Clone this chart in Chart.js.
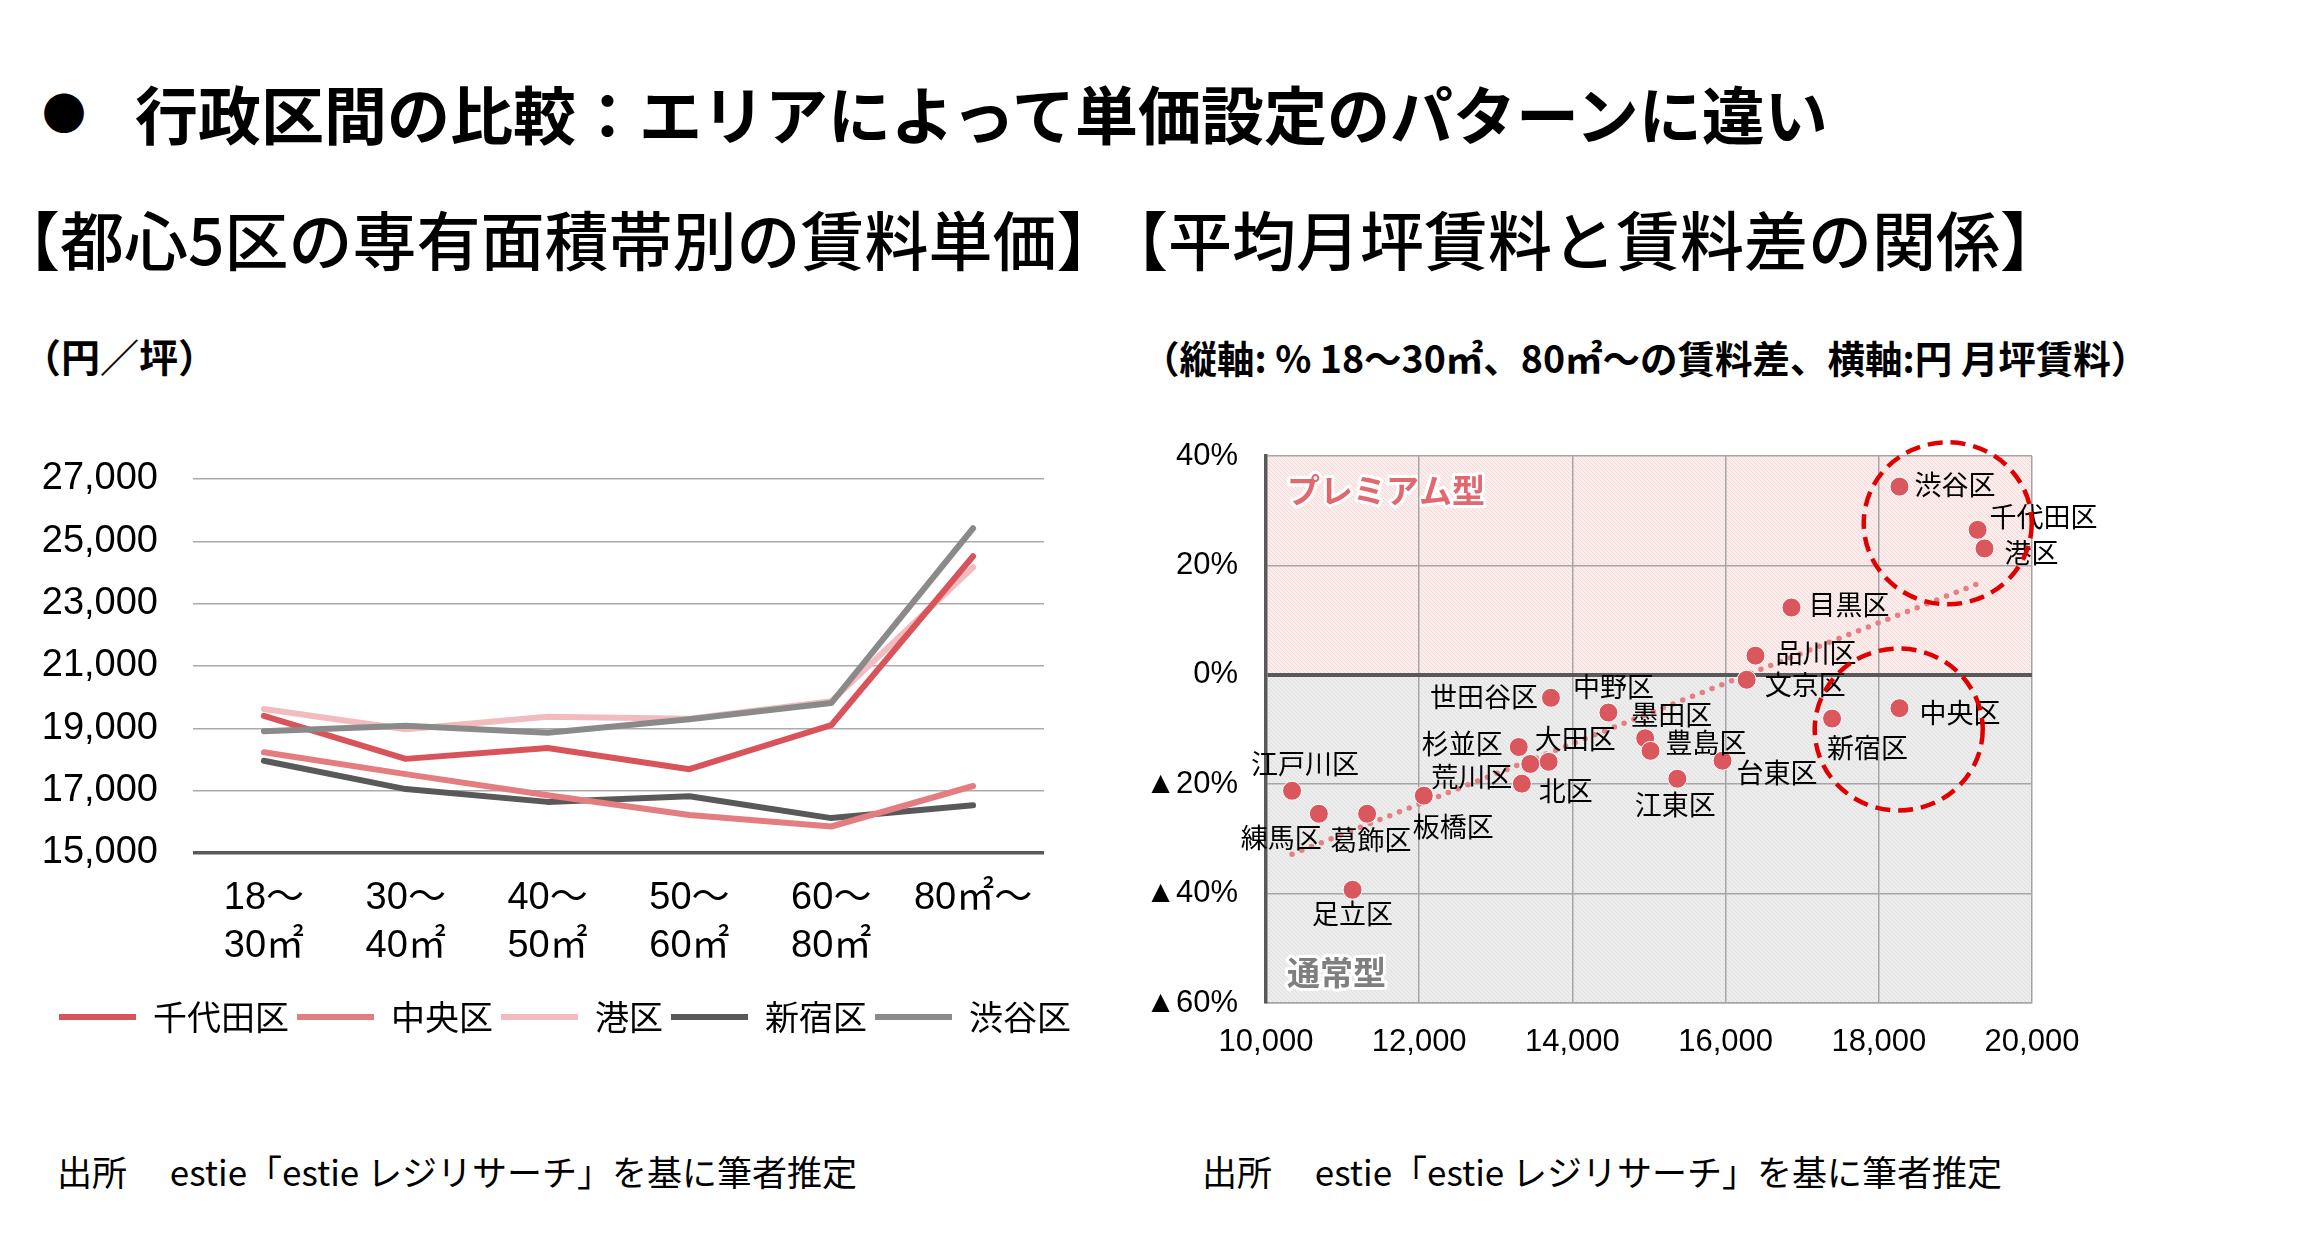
<!DOCTYPE html>
<html lang="ja">
<head>
<meta charset="utf-8">
<script src="https://cdn.jsdelivr.net/npm/chart.js@4.4.1/dist/chart.umd.min.js"></script>
<style>
  html, body { margin: 0; padding: 0; background: #fff; }
  body { width: 2321px; height: 1260px; position: relative; overflow: hidden;
         font-family: "Noto Sans CJK JP", sans-serif; color: #000; }
  .txt { position: absolute; white-space: nowrap; line-height: 1; }
  #bullet { left: 42px; top: 89px; font-size: 44px; }
  #title { left: 135px; top: 80px; font-size: 63px; font-weight: bold; }
  #subLeft { left: -4px; top: 205px; font-size: 64px; font-weight: 500; }
  #subRight { left: 1104px; top: 205px; font-size: 64px; font-weight: 500; }
  #unitLeft { left: 22px; top: 336px; font-size: 39px; font-weight: bold; }
  #unitRight { left: 1142px; top: 338px; font-size: 37.5px; font-weight: bold; }
  #srcLeft { left: 57px; top: 1153px; font-size: 35px; }
  #srcRight { left: 1202px; top: 1153px; font-size: 35px; }
  #rentChart { position: absolute; left: 0; top: 440px; }
  #gapChart { position: absolute; left: 1140px; top: 420px; }
</style>
</head>
<body>
<div class="txt" id="bullet">●</div>
<div class="txt" id="title">行政区間の比較：エリアによって単価設定のパターンに違い</div>
<div class="txt" id="subLeft">【都心5区の専有面積帯別の賃料単価】</div>
<div class="txt" id="subRight">【平均月坪賃料と賃料差の関係】</div>
<div class="txt" id="unitLeft">（円／坪）</div>
<div class="txt" id="unitRight">（縦軸: % 18～30㎡、80㎡～の賃料差、横軸:円 月坪賃料）</div>
<div class="txt" id="srcLeft">出所　 estie「estie レジリサーチ」を基に筆者推定</div>
<div class="txt" id="srcRight">出所　 estie「estie レジリサーチ」を基に筆者推定</div>
<canvas id="rentChart" width="1130" height="640"></canvas>
<canvas id="gapChart" width="1181" height="700"></canvas>
<script>
// --- left chart: rent per tsubo by floor-area band ---
const sizeBands = [["18～", "30㎡"], ["30～", "40㎡"], ["40～", "50㎡"], ["50～", "60㎡"], ["60～", "80㎡"], "80㎡～"];
const wardNames = ["千代田区", "中央区", "港区", "新宿区", "渋谷区"];
const chiyoda = [19400, 18020, 18370, 17690, 19100, 24520];
const chuo = [18230, 17530, 16850, 16220, 15850, 17150];
const minato = [19620, 18970, 19370, 19310, 19870, 24170];
const shinjuku = [17960, 17050, 16640, 16820, 16120, 16530];
const shibuya = [18910, 19080, 18860, 19290, 19810, 25420];
const rentMin = 15000, rentMax = 27000, rentStep = 2000;

// --- right chart: average rent vs. premium of 80㎡~ over 18~30㎡ ---
const wards = ["渋谷区", "千代田区", "港区", "目黒区", "品川区", "文京区", "中央区", "新宿区",
  "世田谷区", "中野区", "墨田区", "豊島区", "杉並区", "大田区", "荒川区", "北区",
  "台東区", "江東区", "江戸川区", "練馬区", "葛飾区", "板橋区", "足立区"];
const avgRent = [18270, 19290, 19380, 16860, 16390, 16275, 18270, 17390,
  13720, 14470, 14950, 15020, 13300, 13690, 13450, 13340,
  15960, 15370, 10340, 10690, 11320, 12060, 11130];
const rentGap = [34.4, 26.5, 23.1, 12.3, 3.5, -0.9, -6.1, -8.0,
  -4.2, -6.9, -11.6, -13.9, -13.2, -15.9, -16.3, -19.9,
  -15.7, -19.0, -21.2, -25.4, -25.4, -22.1, -39.3];
const trendRent = [10340, 19320];
const trendGap = [-32.8, 16.8];
const circleRent = [18900, 18260];
const circleGap = [27.7, -10.0];
const gapMin = -60, gapMax = 40, gapStep = 20;
const avgMin = 10000, avgMax = 20000, avgStep = 2000;

const numFont = '"Liberation Sans", "Noto Sans CJK JP", sans-serif';
const jpFont = '"Noto Sans CJK JP", sans-serif';

// where each ward name sits next to its dot: [align, dx, dy]
const labelPlace = {
  "渋谷区": ["left", 15, -2], "千代田区": ["left", 12, -13], "港区": ["left", 20, 4],
  "目黒区": ["left", 17, -3], "品川区": ["left", 20, -3], "文京区": ["left", 18, 5],
  "中央区": ["left", 20, 5], "新宿区": ["left", -5, 29], "世田谷区": ["right", -13, -1],
  "中野区": ["center", 5, -26], "墨田区": ["left", -14, -24], "豊島区": ["left", 15, -8],
  "杉並区": ["right", -16, -3], "大田区": ["left", -14, -23], "荒川区": ["right", -18, 13],
  "北区": ["left", 17, 7], "台東区": ["left", 14, 12], "江東区": ["center", -2, 26],
  "江戸川区": ["center", 13, -27], "練馬区": ["right", 3, 24], "葛飾区": ["center", 4, 26],
  "板橋区": ["left", -11, 31], "足立区": ["center", 0, 24]
};

Chart.defaults.animation = false;
Chart.defaults.devicePixelRatio = 1;

function lineSet(label, data, color, order) {
  return {
    label, data, order,
    borderColor: color, backgroundColor: color,
    borderWidth: 6, borderCapStyle: "round", borderJoinStyle: "round",
    pointRadius: 0, tension: 0
  };
}

new Chart(document.getElementById("rentChart"), {
  type: "line",
  data: {
    labels: sizeBands,
    datasets: [
      lineSet(wardNames[0], chiyoda, "#D9545A", 1),
      lineSet(wardNames[1], chuo, "#E47D80", 2),
      lineSet(wardNames[2], minato, "#F2BCBE", 4),
      lineSet(wardNames[3], shinjuku, "#595959", 3),
      lineSet(wardNames[4], shibuya, "#8A8A8A", 0)
    ]
  },
  options: {
    responsive: false,
    layout: { padding: { top: 39, left: 0, right: 0, bottom: 36 } },
    plugins: {
      tooltip: { enabled: false },
      legend: {
        position: "bottom",
        labels: {
          usePointStyle: true, pointStyle: "line", pointStyleWidth: 77,
          padding: 8, color: "#000",
          font: { family: jpFont, size: 34 },
          sort: (a, b) => a.datasetIndex - b.datasetIndex
        }
      }
    },
    scales: {
      x: {
        offset: true,
        grid: { display: false, drawTicks: false },
        border: { display: false },
        ticks: { color: "#000", padding: 22, maxRotation: 0, autoSkip: false,
                 font: { family: numFont, size: 38, lineHeight: 1.25 } },
        afterFit: s => { s.height = 139; }
      },
      y: {
        min: rentMin, max: rentMax,
        border: { display: false },
        grid: {
          drawTicks: true, tickLength: 35, tickColor: "transparent",
          color: c => c.tick.value === rentMin ? "#595959" : "#ABABAB",
          lineWidth: c => c.tick.value === rentMin ? 3.5 : 1.5
        },
        ticks: { stepSize: rentStep, color: "#000", padding: 0,
                 font: { family: numFont, size: 38 },
                 callback: v => v.toLocaleString("en-US") },
        afterFit: s => { s.width = 193; }
      },
      // empty right-hand axis, only keeps the plot narrower than the legend row
      yRight: {
        position: "right",
        grid: { display: false, drawTicks: false },
        border: { display: false },
        ticks: { display: false, padding: 0 },
        afterFit: s => { s.width = 86; }
      }
    }
  }
});

function hatch(ctx, base, line) {
  const c = document.createElement("canvas");
  c.width = 4; c.height = 4;
  const g = c.getContext("2d");
  g.fillStyle = base;
  g.fillRect(0, 0, 4, 4);
  g.strokeStyle = line;
  g.lineWidth = 0.8;
  g.beginPath();
  g.moveTo(0, 0); g.lineTo(4, 4);
  g.moveTo(-1, 3); g.lineTo(1, 5);
  g.moveTo(3, -1); g.lineTo(5, 1);
  g.stroke();
  return ctx.createPattern(c, "repeat");
}

const gapDecor = {
  id: "gapDecor",
  beforeDraw(chart) {
    const { ctx, chartArea: a, scales: { y } } = chart;
    const zero = y.getPixelForValue(0);
    ctx.save();
    ctx.fillStyle = hatch(ctx, "#FCEDED", "#F2D3D3");
    ctx.fillRect(a.left, a.top, a.right - a.left, zero - a.top);
    ctx.fillStyle = hatch(ctx, "#EDEDED", "#DADADA");
    ctx.fillRect(a.left, zero, a.right - a.left, a.bottom - zero);
    ctx.font = "bold 33px " + jpFont;
    ctx.textBaseline = "middle";
    ctx.textAlign = "left";
    ctx.lineJoin = "round";
    ctx.lineWidth = 6;
    ctx.strokeStyle = "#fff";
    ctx.strokeText("プレミアム型", a.left + 21, a.top + 34);
    ctx.fillStyle = "#E0686E";
    ctx.fillText("プレミアム型", a.left + 21, a.top + 34);
    ctx.strokeText("通常型", a.left + 21, a.bottom - 31);
    ctx.fillStyle = "#7F7F7F";
    ctx.fillText("通常型", a.left + 21, a.bottom - 31);
    ctx.restore();
  },
  afterDatasetsDraw(chart) {
    const { ctx, scales: { x, y } } = chart;
    const meta = chart.getDatasetMeta(0);
    ctx.save();
    ctx.font = "27px " + jpFont;
    ctx.fillStyle = "#000";
    ctx.textBaseline = "middle";
    meta.data.forEach((pt, i) => {
      const name = wards[i];
      const [align, dx, dy] = labelPlace[name];
      ctx.textAlign = align;
      ctx.fillText(name, pt.x + dx, pt.y + dy);
    });
    ctx.strokeStyle = "#E00000";
    ctx.lineWidth = 4.5;
    ctx.setLineDash([15, 8]);
    circleRent.forEach((r, i) => {
      ctx.beginPath();
      ctx.ellipse(x.getPixelForValue(r), y.getPixelForValue(circleGap[i]), 84, 81, 0, 0, Math.PI * 2);
      ctx.stroke();
    });
    ctx.restore();
  }
};

new Chart(document.getElementById("gapChart"), {
  type: "scatter",
  data: {
    datasets: [
      {
        data: avgRent.map((v, i) => ({ x: v, y: rentGap[i] })),
        backgroundColor: "#D9575D", borderColor: "#fff", borderWidth: 1,
        pointRadius: 9.5
      },
      {
        data: trendRent.map((v, i) => ({ x: v, y: trendGap[i] })),
        showLine: true, pointRadius: 0,
        borderColor: "#E67F84", borderWidth: 5.5,
        borderDash: [0, 10.5], borderCapStyle: "round"
      }
    ]
  },
  plugins: [gapDecor],
  options: {
    responsive: false,
    layout: { padding: { top: 36, left: 0, right: 289, bottom: 0 } },
    plugins: { legend: { display: false }, tooltip: { enabled: false } },
    scales: {
      x: {
        type: "linear", min: avgMin, max: avgMax,
        border: { color: "#A6A6A6", width: 1.5 },
        grid: { drawTicks: false, color: "#A6A6A6", lineWidth: 1.5 },
        ticks: { stepSize: avgStep, color: "#000", padding: 21,
                 font: { family: numFont, size: 31 },
                 callback: v => v.toLocaleString("en-US") },
        afterFit: s => { s.height = 117; }
      },
      y: {
        min: gapMin, max: gapMax,
        border: { color: "#595959", width: 3.5 },
        grid: {
          drawTicks: true, tickLength: 28, tickColor: "transparent",
          color: c => c.tick.value === 0 ? "#595959" : "#A6A6A6",
          lineWidth: c => c.tick.value === 0 ? 4 : 1.5
        },
        ticks: { stepSize: gapStep, color: "#000", padding: 0,
                 font: { family: numFont, size: 31 },
                 callback: v => (v < 0 ? "▲" + Math.abs(v) : v) + "%" },
        afterFit: s => { s.width = 126; }
      }
    }
  }
});
</script>
</body>
</html>
